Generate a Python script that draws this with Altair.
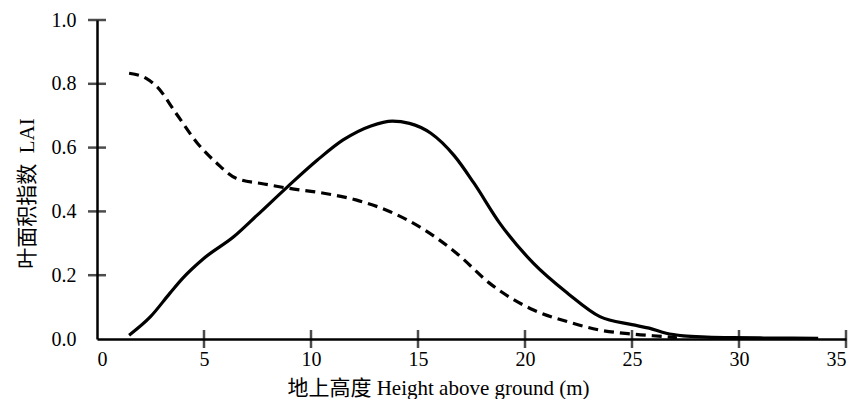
import altair as alt
import pandas as pd

# Solid curve
solid_x = [1.5, 2.5, 3.4, 4.0, 5.0, 6.4, 7.5, 8.9, 10.3, 11.5, 12.8, 13.8, 14.6, 15.6, 16.7, 17.6, 18.8, 20.4, 22.0, 23.5, 25.0, 25.8, 26.6, 27.4, 28.5, 29.7, 31.5, 33.7]
solid_y = [0.012, 0.07, 0.143, 0.19, 0.253, 0.321, 0.389, 0.477, 0.561, 0.624, 0.668, 0.683, 0.676, 0.645, 0.574, 0.49, 0.365, 0.237, 0.143, 0.07, 0.045, 0.034, 0.018, 0.01, 0.006, 0.004, 0.003, 0.002]

# Dashed curve
dashed_x = [1.5, 2.3, 2.8, 3.7, 4.7, 5.6, 6.5, 7.8, 9.0, 10.6, 12.1, 13.7, 15.3, 16.8, 18.4, 20.4, 22.0, 23.5, 25.1, 26.6, 27.1]
dashed_y = [0.833, 0.817, 0.791, 0.707, 0.613, 0.551, 0.504, 0.486, 0.472, 0.457, 0.436, 0.399, 0.342, 0.269, 0.172, 0.091, 0.054, 0.028, 0.015, 0.007, 0.004]

x_labels = [0, 5, 10, 15, 20, 25, 30, 35]
y_labels = [0, 0.2, 0.4, 0.6, 0.8, 1.0]
x_ticks = [5, 10, 15, 20, 25, 30, 35]
y_ticks = [0.2, 0.4, 0.6, 0.8, 1.0]

W, H = 749, 319
TICK_PX = 9
FONT = "Liberation Serif, Times New Roman, Noto Sans CJK SC"

solid_df = pd.DataFrame({"h": solid_x, "lai": solid_y})
dashed_df = pd.DataFrame({"h": dashed_x, "lai": dashed_y})
xt_df = pd.DataFrame({"h": x_ticks})
yt_df = pd.DataFrame({"lai": y_ticks})

xscale = alt.Scale(domain=[0, 35], nice=False, zero=False)
yscale = alt.Scale(domain=[0, 1.0], nice=False)

solid = alt.Chart(solid_df).mark_line(
    color="black", strokeWidth=3.2, interpolate="monotone"
).encode(
    x=alt.X("h:Q", scale=xscale,
            axis=alt.Axis(title="地上高度 Height above ground (m)",
                          values=x_labels,
                          tickSize=0, labelPadding=10, titlePadding=8,
                          titleX=341,
                          grid=False, domainColor="black", domainWidth=2.5)),
    y=alt.Y("lai:Q", scale=yscale,
            axis=alt.Axis(title="叶面积指数\u00a0\u00a0LAI",
                          values=y_labels, format=".1f",
                          tickSize=0, labelPadding=21, titlePadding=14,
                          titleY=173,
                          grid=False, domainColor="black", domainWidth=2.5)),
)

dashed = alt.Chart(dashed_df).mark_line(
    color="black", strokeWidth=3.2, strokeDash=[10, 6], interpolate="monotone"
).encode(
    x=alt.X("h:Q", scale=xscale),
    y=alt.Y("lai:Q", scale=yscale),
)

# inward-pointing tick marks
xt = alt.Chart(xt_df).mark_tick(
    color="black", thickness=2.5, size=TICK_PX * 2, orient="vertical"
).encode(
    x=alt.X("h:Q", scale=xscale),
    y=alt.datum(0, scale=yscale),
)

yt = alt.Chart(yt_df).mark_tick(
    color="black", thickness=2.5, size=TICK_PX * 2, orient="horizontal"
).encode(
    y=alt.Y("lai:Q", scale=yscale),
    x=alt.datum(0, scale=xscale),
)

chart = alt.layer(solid, dashed, xt, yt).properties(
    width=W, height=H,
    autosize=alt.AutoSizeParams(type="none"),
    padding={"left": 89, "top": 12, "right": 6, "bottom": 60},
).configure_view(stroke=None).configure_axis(
    labelFont=FONT, titleFont=FONT, labelFontSize=20, titleFontSize=21,
    labelColor="black", titleColor="black", titleFontWeight="normal",
)

chart.save("out.html", embed_options={"renderer": "svg", "actions": False})
